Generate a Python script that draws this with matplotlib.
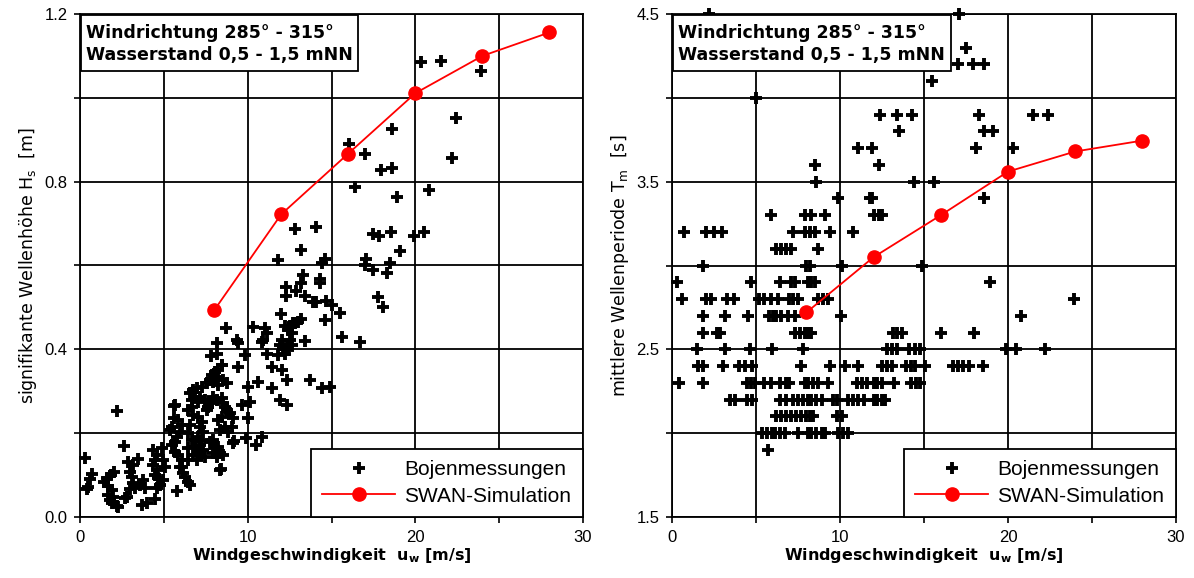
import matplotlib
matplotlib.use("Agg")
import matplotlib.pyplot as plt
from matplotlib.ticker import MultipleLocator, FuncFormatter
from matplotlib.patches import Rectangle
import numpy as np

plt.rcParams['font.family'] = ['Liberation Sans', 'DejaVu Sans']

# ---------------- data ----------------
swan_u = [8, 12, 16, 20, 24, 28]
swan_hs = [0.493, 0.722, 0.867, 1.011, 1.100, 1.156]
swan_tm = [2.72, 3.05, 3.30, 3.56, 3.68, 3.745]

buoy_hs_u = [
    20.34, 21.54, 23.89, 22.4, 18.6, 16.02, 17.02, 22.2, 17.98, 18.6, 16.43, 18.91, 20.8,
    12.8, 14.1, 13.2, 11.8, 14.43, 14.6, 17.48, 17.86, 18.57, 19.9, 20.5, 19.1, 17.08,
    17.02, 17.5, 18.5, 18.3, 17.8, 18.1, 13.3, 13.2, 12.3, 12.9, 12.3, 13.4, 14.3, 14.33,
    13.9, 14.1, 14.7, 15.0, 15.5, 12.0, 14.6, 13.2, 12.7, 12.2, 12.4, 13.4, 15.6, 16.7,
    12.53, 12.83, 13.03, 12.63, 12.53, 12.03, 11.93, 12.13, 12.33, 12.43, 12.63, 12.23, 11.83,
    10.34, 11.04, 11.14, 10.94, 10.84, 9.35, 9.45, 8.72, 8.2,
    9.85, 11.14, 9.45, 11.44, 12.03, 12.33, 10.64, 10.04, 11.44, 11.93, 12.33, 13.72, 14.42,
    14.92, 10.14, 9.65, 10.0, 9.2, 9.9, 10.5, 10.85, 8.4,
    7.8, 8.17, 8.46, 2.19, 2.63, 0.3, 5.67, 5.8,
    0.70, 0.60, 0.50, 0.40, 1.59, 1.45, 1.69, 1.89, 2.05, 1.85,
    1.69, 1.79, 1.89, 1.99, 2.19, 2.29,
    2.88, 3.18, 3.48, 2.98, 3.08, 3.18, 2.98, 2.79, 3.28, 3.58, 3.78, 3.88,
    3.68, 3.98, 4.47, 2.68,
    4.37, 4.57, 4.47, 4.37, 4.57, 4.47, 4.67, 4.77, 4.57, 4.87, 4.97, 5.07, 4.97,
    6.46, 6.56, 6.16, 6.07, 6.26, 8.35, 9.15,
    5.63, 5.61, 5.37, 5.47,
    5.87, 6.07, 5.97, 5.77, 5.67, 5.47, 5.67, 5.87, 6.07, 5.97,
    6.46, 6.66, 6.76, 6.96, 6.56, 6.86, 7.06, 6.66, 6.76, 6.56, 6.46, 6.66, 6.86, 6.46,
    6.76, 6.46, 7.06, 6.96,
    7.26, 7.56, 7.76, 7.86, 8.06, 8.25, 8.45, 8.15, 7.96, 8.25, 8.55, 8.75,
    7.16, 7.46, 7.66, 7.56, 7.86, 7.96, 8.15, 8.45, 8.55, 8.65, 8.75, 8.95, 9.15, 9.05,
    8.85, 8.65, 8.35, 8.25, 8.45,
    7.06, 7.26, 7.16, 7.36, 7.06, 7.26, 7.16, 7.36, 7.06, 7.46,
    7.76, 7.96, 8.06, 8.25, 8.35, 8.55, 7.96, 8.15,
]
buoy_hs = [
    1.085, 1.089, 1.065, 0.953, 0.926, 0.891, 0.867, 0.856, 0.828, 0.832, 0.788, 0.763, 0.781,
    0.687, 0.691, 0.638, 0.614, 0.607, 0.616, 0.675, 0.671, 0.681, 0.671, 0.681, 0.634, 0.616,
    0.601, 0.590, 0.607, 0.581, 0.526, 0.502, 0.577, 0.559, 0.548, 0.539, 0.528, 0.528, 0.568, 0.559,
    0.512, 0.512, 0.515, 0.506, 0.487, 0.484, 0.469, 0.473, 0.464, 0.455, 0.445, 0.420, 0.429, 0.418,
    0.455, 0.462, 0.466, 0.438, 0.422, 0.422, 0.410, 0.402, 0.406, 0.398, 0.410, 0.390, 0.386,
    0.454, 0.450, 0.438, 0.422, 0.418, 0.422, 0.414, 0.451, 0.416,
    0.386, 0.390, 0.359, 0.359, 0.351, 0.327, 0.323, 0.311, 0.307, 0.279, 0.267, 0.327, 0.307,
    0.311, 0.275, 0.267, 0.235, 0.182, 0.189, 0.172, 0.191, 0.114,
    0.385, 0.390, 0.363, 0.253, 0.170, 0.141, 0.268, 0.061,
    0.103, 0.090, 0.071, 0.066, 0.092, 0.084, 0.074, 0.064, 0.108, 0.100,
    0.052, 0.041, 0.033, 0.048, 0.026, 0.023,
    0.132, 0.124, 0.138, 0.108, 0.096, 0.080, 0.066, 0.048, 0.068, 0.076, 0.088, 0.068,
    0.029, 0.034, 0.042, 0.045,
    0.160, 0.148, 0.136, 0.124, 0.112, 0.100, 0.092, 0.076, 0.068, 0.164, 0.136, 0.120, 0.088,
    0.084, 0.076, 0.104, 0.120, 0.096, 0.112, 0.177,
    0.265, 0.235, 0.207, 0.215,
    0.231, 0.219, 0.203, 0.192, 0.180, 0.172, 0.156, 0.148, 0.136, 0.120,
    0.255, 0.279, 0.303, 0.307, 0.295, 0.287, 0.275, 0.263, 0.243, 0.219, 0.200, 0.184, 0.168, 0.164,
    0.148, 0.136, 0.151, 0.136,
    0.311, 0.319, 0.327, 0.339, 0.347, 0.351, 0.362, 0.335, 0.323, 0.315, 0.327, 0.319,
    0.287, 0.279, 0.263, 0.255, 0.271, 0.287, 0.279, 0.283, 0.271, 0.263, 0.255, 0.247, 0.235, 0.215,
    0.203, 0.215, 0.207, 0.231, 0.239,
    0.239, 0.227, 0.215, 0.203, 0.192, 0.184, 0.172, 0.160, 0.152, 0.144,
    0.180, 0.184, 0.164, 0.168, 0.152, 0.148, 0.152, 0.144,
]

# mean period measurements: wind speeds listed per period value
tm_rows = {
    4.5: [2.2, 17.1],
    4.3: [17.5],
    4.2: [17.0, 17.9, 18.6],
    4.1: [15.5],
    4.0: [5.0],
    3.9: [12.4, 13.4, 14.3, 18.3, 21.5, 22.4],
    3.8: [13.5, 18.6, 19.1],
    3.7: [11.1, 11.9, 18.1, 20.3],
    3.6: [8.5, 12.3],
    3.5: [8.6, 14.4, 15.6],
    3.4: [9.9, 11.8, 11.9, 18.6],
    3.3: [5.9, 7.9, 8.3, 9.1, 12.0, 12.3, 12.5],
    3.2: [0.7, 2.0, 2.5, 3.0, 7.2, 7.9, 8.2, 8.5, 9.4, 10.8],
    3.1: [6.2, 6.5, 6.8, 7.1, 8.7],
    3.0: [1.86, 8.0, 8.2, 10.1, 14.9],
    2.9: [0.32, 4.68, 6.41, 7.1, 7.3, 8.1, 8.3, 8.5, 18.9],
    2.8: [0.6, 2.0, 2.3, 3.3, 3.7, 5.2, 5.5, 5.9, 6.3, 6.95, 7.22, 7.52, 8.7, 9.0, 9.3, 23.9],
    2.7: [1.86, 3.14, 4.5, 5.8, 6.0, 6.2, 6.5, 6.9, 7.3, 10.05, 20.8],
    2.6: [1.86, 2.7, 2.86, 7.3, 7.6, 7.9, 8.1, 8.3, 13.17, 13.4, 13.67, 16.0, 18.0],
    2.5: [1.47, 3.14, 4.63, 5.93, 7.8, 12.78, 13.11, 13.37, 14.1, 14.45, 14.75, 19.9, 20.5, 22.2],
    2.4: [1.57, 1.86, 3.05, 3.97, 4.33, 4.74, 7.66, 9.4, 10.3, 11.05, 12.5, 12.8, 13.1, 13.9,
          14.2, 14.45, 15.05, 16.7, 17.05, 17.35, 17.65, 18.5],
    2.3: [0.42, 1.86, 4.44, 4.70, 4.93, 5.5, 5.9, 6.4, 6.8, 6.95, 7.9, 8.1, 8.4, 8.7, 9.3,
          11.0, 11.3, 11.6, 12.0, 12.2, 12.5, 13.2, 14.2, 14.5, 14.75],
    2.2: [3.45, 3.74, 4.44, 4.74, 6.41, 6.8, 7.2, 7.5, 7.8, 8.1, 8.3, 8.6, 8.9, 9.6, 9.8,
          10.5, 10.8, 11.1, 11.4, 12.0, 12.2, 12.5, 12.7],
    2.1: [6.2, 6.5, 6.8, 7.1, 7.4, 7.7, 8.0, 8.2, 8.4, 9.8, 10.1],
    2.0: [5.34, 5.63, 5.93, 6.12, 6.41, 6.7, 7.5, 8.1, 8.3, 8.6, 8.9, 9.1, 9.9, 10.2, 10.5],
    1.9: [5.7],
}
buoy_tm_u = [u for t, us in tm_rows.items() for u in us]
buoy_tm = [t for t, us in tm_rows.items() for u in us]

box_text = "Windrichtung 285° - 315°\nWasserstand 0,5 - 1,5 mNN"
legend_labels = ['Bojenmessungen', 'SWAN-Simulation']
x_label = "Windgeschwindigkeit  u$_\\mathregular{w}$ [m/s]"
y_labels = ["signifikante Wellenhöhe H$_\\mathregular{s}$  [m]",
            "mittlere Wellenperiode T$_\\mathregular{m}$  [s]"]

# ---------------- figure ----------------
W, H = 1194, 578
fig = plt.figure(figsize=(W / 100, H / 100), dpi=100)
ax1 = fig.add_axes([80 / W, 1 - 517 / H, 503 / W, 503 / H])
ax2 = fig.add_axes([672 / W, 1 - 517 / H, 504 / W, 503 / H])

def style(ax, ylim, ystep, ylabel_every, yfmt, ylabel):
    ax.set_xlim(0, 30)
    ax.set_ylim(*ylim)
    ax.xaxis.set_major_locator(MultipleLocator(5))
    ax.yaxis.set_major_locator(MultipleLocator(ystep))
    ax.xaxis.set_major_formatter(FuncFormatter(
        lambda v, p: (f"{v:.0f}" if abs(v / 10 - round(v / 10)) < 1e-6 else "")))
    def yf(v, p):
        k = (v - ylim[0]) / ystep
        return yfmt.format(v) if abs(k / ylabel_every - round(k / ylabel_every)) < 1e-6 else ""
    ax.yaxis.set_major_formatter(FuncFormatter(yf))
    ax.grid(True, color='black', linewidth=1.3)
    ax.set_axisbelow(True)
    for s in ax.spines.values():
        s.set_linewidth(1.3)
    ax.tick_params(direction='out', length=4, width=1.2, labelsize=12, pad=5)
    ax.set_xlabel(x_label, fontsize=11.5, fontweight='bold', family='DejaVu Sans', labelpad=1)
    ax.set_ylabel(ylabel, fontsize=12.5, family='DejaVu Sans', labelpad=4)
    # info box (upper left)
    ax.add_patch(Rectangle((0.002, 0.887), 0.551, 0.111, transform=ax.transAxes,
                           facecolor='white', edgecolor='black', linewidth=1.3,
                           zorder=9, clip_on=False))
    ax.text(0.011, 0.940, box_text, transform=ax.transAxes, ha='left', va='center',
            fontsize=12.5, fontweight='bold', family='DejaVu Sans', linespacing=1.3,
            zorder=10)

style(ax1, (0, 1.2), 0.2, 2, "{:.1f}", y_labels[0])
style(ax2, (1.5, 4.5), 0.5, 2, "{:.1f}", y_labels[1])

for ax, bu, by, sy in [(ax1, buoy_hs_u, buoy_hs, swan_hs), (ax2, buoy_tm_u, buoy_tm, swan_tm)]:
    ax.plot(bu, by, linestyle='none', marker='+', markersize=9, markeredgewidth=2.8,
            color='black', label=legend_labels[0], clip_on=False, zorder=3)
    ax.plot(swan_u, sy, color='#ff0000', linewidth=1.3, marker='o', markersize=9.5,
            markeredgecolor='#ff0000', markerfacecolor='#ff0000', label=legend_labels[1],
            zorder=4)
    leg = ax.legend(loc='lower right', fontsize=15, frameon=True, fancybox=False,
                    edgecolor='black', framealpha=1, borderaxespad=0.0,
                    handlelength=3.5, handletextpad=0.45, borderpad=0.55, labelspacing=0.35)
    leg.get_frame().set_linewidth(1.3)
    leg.set_zorder(10)

fig.savefig("out.png", dpi=100)
